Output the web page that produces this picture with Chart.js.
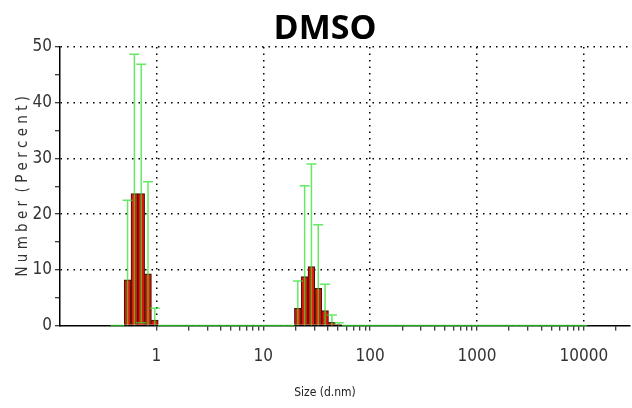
<!DOCTYPE html>
<html>
<head>
<meta charset="utf-8">
<script src="https://cdn.jsdelivr.net/npm/chart.js@4.4.1/dist/chart.umd.min.js"></script>
<style>
  html, body { margin: 0; padding: 0; background: #fff; }
  #wrap { width: 632px; height: 408px; }
</style>
</head>
<body>
<div id="wrap"><canvas id="sizeChart"></canvas></div>
<script>
// size classes (d.nm), 70 log-spaced bins
const sizes = [
  0.4, 0.4632, 0.5365, 0.6213, 0.7195, 0.8332, 0.9649, 1.117, 1.294, 1.499,
  1.736, 2.01, 2.328, 2.696, 3.122, 3.615, 4.187, 4.849, 5.615, 6.503,
  7.531, 8.721, 10.1, 11.7, 13.54, 15.69, 18.17, 21.04, 24.36, 28.21,
  32.67, 37.84, 43.82, 50.75, 58.77, 68.06, 78.82, 91.28, 105.7, 122.4,
  141.8, 164.2, 190.1, 220.2, 255, 295.3, 342, 396.1, 458.7, 531.2,
  615.1, 712.4, 825, 955.4, 1106, 1281, 1484, 1718, 1990, 2305,
  2669, 3091, 3580, 4145, 4801, 5560, 6439, 7456, 8635, 10000
];

// number distribution (%) per bin
const numberPct = [
  0, 0, 8.2, 23.7, 23.7, 9.3, 1.0, 0, 0, 0,
  0, 0, 0, 0, 0, 0, 0, 0, 0, 0,
  0, 0, 0, 0, 0, 0, 0, 3.1, 8.8, 10.6,
  6.7, 2.7, 0.6, 0.2, 0, 0, 0, 0, 0, 0,
  0, 0, 0, 0, 0, 0, 0, 0, 0, 0,
  0, 0, 0, 0, 0, 0, 0, 0, 0, 0,
  0, 0, 0, 0, 0, 0, 0, 0, 0, 0
];

// standard deviation (%) per bin
const numberSd = [
  0, 0, 14.3, 25.0, 23.2, 16.5, 2.1, 0, 0, 0,
  0, 0, 0, 0, 0, 0, 0, 0, 0, 0,
  0, 0, 0, 0, 0, 0, 0, 4.9, 16.3, 18.4,
  11.4, 4.7, 1.3, 0.3, 0, 0, 0, 0, 0, 0,
  0, 0, 0, 0, 0, 0, 0, 0, 0, 0,
  0, 0, 0, 0, 0, 0, 0, 0, 0, 0,
  0, 0, 0, 0, 0, 0, 0, 0, 0, 0
];

const decadeTicks = [1, 10, 100, 1000, 10000];
const minorSteps = [2, 3, 4, 5, 6, 7, 8, 9];
const extraTicks = [20000];

// condensed face of DejaVu Sans, requested through the font-stretch slot
const tickFont = "'DejaVu Sans', sans-serif";
const narrow = 'condensed';

// green error bars, clipped at zero
const errorBars = {
  id: 'errorBars',
  afterDatasetsDraw(chart) {
    const { ctx, chartArea, scales: { x, y } } = chart;
    ctx.save();
    ctx.beginPath();
    ctx.rect(chartArea.left, chartArea.top - 3, chartArea.width, chartArea.height + 6);
    ctx.clip();
    ctx.strokeStyle = 'rgba(50, 225, 50, 0.75)';
    ctx.lineWidth = 1.5;
    sizes.forEach((s, i) => {
      const px = x.getPixelForValue(s);
      const hi = numberPct[i] + numberSd[i];
      const lo = numberPct[i] - numberSd[i];
      const yHi = y.getPixelForValue(hi);
      const yLo = y.getPixelForValue(Math.max(lo, 0));
      const half = numberSd[i] > 0 ? 5 : 3.4;
      ctx.beginPath();
      ctx.moveTo(px, yLo);
      ctx.lineTo(px, yHi);
      ctx.moveTo(px - half, yHi);
      ctx.lineTo(px + half, yHi);
      if (lo > 0) {
        ctx.moveTo(px - half, yLo);
        ctx.lineTo(px + half, yLo);
      }
      ctx.stroke();
    });
    ctx.restore();
  }
};

new Chart(document.getElementById('sizeChart'), {
  type: 'bar',
  data: {
    datasets: [{
      data: sizes.map((s, i) => ({ x: s, y: numberPct[i] })),
      backgroundColor: '#e8140c',
      borderColor: '#4a1406',
      borderWidth: 1.2,
      barThickness: 6.84
    }]
  },
  options: {
    responsive: true,
    maintainAspectRatio: false,
    animation: false,
    layout: { padding: { left: 18, right: 0, top: 0, bottom: 0 } },
    plugins: {
      legend: { display: false },
      tooltip: { enabled: false },
      title: {
        display: true,
        text: 'DMSO',
        color: '#000',
        font: { family: "'Open Sans', sans-serif", size: 34, weight: 'bold' },
        padding: { top: 9, bottom: -2.8 }
      },
      subtitle: {
        display: true,
        position: 'bottom',
        text: 'Size (d.nm)',
        color: '#222',
        font: { family: tickFont, size: 12, weight: narrow },
        padding: { top: 4, bottom: 7.6 }
      }
    },
    scales: {
      x: {
        type: 'logarithmic',
        min: 0.125,
        max: 26800,
        offset: false,
        afterBuildTicks: (axis) => {
          const ticks = [];
          decadeTicks.forEach(d => {
            ticks.push({ value: d });
            if (d < 10000) minorSteps.forEach(m => ticks.push({ value: d * m }));
          });
          extraTicks.forEach(v => ticks.push({ value: v }));
          axis.ticks = ticks;
        },
        afterFit: (axis) => { axis.height = 56.4; },
        ticks: {
          autoSkip: false,
          maxRotation: 0,
          padding: 16,
          color: '#333',
          font: { family: tickFont, size: 17, weight: narrow },
          callback: (v) => decadeTicks.includes(v) ? String(v) : ''
        },
        grid: {
          offset: false,
          color: (c) => c.tick && decadeTicks.includes(c.tick.value) ? '#000' : 'rgba(0,0,0,0)',
          lineWidth: 1.5,
          tickColor: '#000',
          tickLength: 5,
          tickWidth: 1
        },
        border: { display: true, color: '#000', width: 1.5, dash: [1.5, 5] }
      },
      y: {
        min: 0,
        max: 50,
        afterFit: (axis) => { axis.width = 42; },
        ticks: {
          stepSize: 5,
          padding: 3,
          color: '#333',
          font: { family: tickFont, size: 17, weight: narrow },
          callback: (v) => v % 10 === 0 ? String(v) : ''
        },
        grid: {
          color: (c) => c.tick && c.tick.value % 10 === 0 && c.tick.value > 0 ? '#000' : 'rgba(0,0,0,0)',
          lineWidth: 1.5,
          tickColor: '#000',
          tickLength: 5,
          tickWidth: 1
        },
        border: { display: true, color: '#000', width: 1.5, dash: [1.5, 5] },
        title: {
          display: true,
          text: 'N u m b e r  ( P e r c e n t )',
          color: '#333',
          font: { family: tickFont, size: 15, weight: narrow },
          padding: { top: -4, bottom: 0 }
        }
      }
    }
  },
  plugins: [errorBars]
});
</script>
</body>
</html>
